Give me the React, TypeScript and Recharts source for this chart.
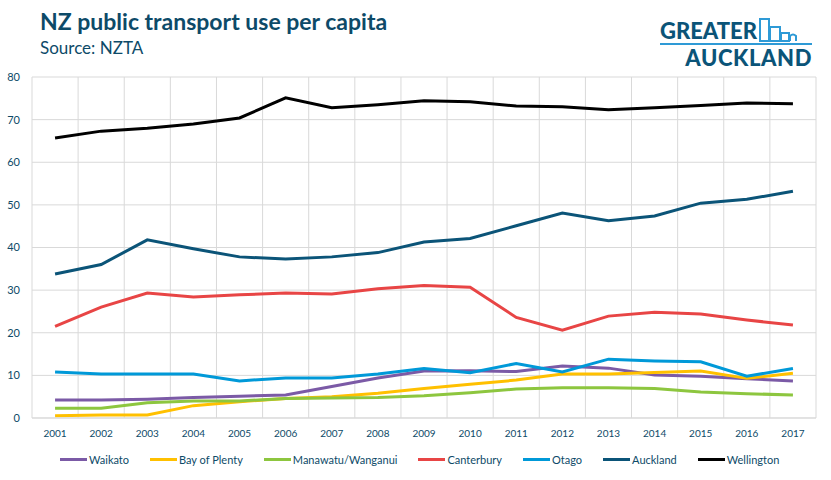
import { LineChart, Line, XAxis, YAxis, CartesianGrid } from "recharts";

const years = [
  "2001", "2002", "2003", "2004", "2005", "2006", "2007", "2008", "2009",
  "2010", "2011", "2012", "2013", "2014", "2015", "2016", "2017",
];

const waikato = [4.2, 4.2, 4.4, 4.8, 5.1, 5.4, 7.4, 9.4, 11.0, 11.1, 10.9, 12.2, 11.7, 10.1, 9.8, 9.2, 8.7];
const bayOfPlenty = [0.5, 0.7, 0.7, 2.9, 3.8, 4.6, 5.0, 5.8, 6.9, 7.9, 8.9, 10.3, 10.3, 10.7, 11.0, 9.3, 10.5];
const manawatu = [2.3, 2.3, 3.6, 4.0, 4.0, 4.6, 4.7, 4.8, 5.2, 5.9, 6.8, 7.1, 7.1, 6.9, 6.1, 5.7, 5.4];
const canterbury = [21.5, 26.0, 29.3, 28.4, 28.9, 29.3, 29.1, 30.3, 31.1, 30.7, 23.6, 20.6, 23.9, 24.8, 24.4, 23.0, 21.8];
const otago = [10.8, 10.3, 10.3, 10.3, 8.7, 9.4, 9.4, 10.3, 11.6, 10.6, 12.8, 10.8, 13.8, 13.4, 13.2, 9.8, 11.6];
const auckland = [33.8, 36.0, 41.8, 39.7, 37.8, 37.3, 37.8, 38.8, 41.3, 42.1, 45.1, 48.1, 46.3, 47.4, 50.4, 51.3, 53.2];
const wellington = [65.7, 67.3, 68.0, 69.0, 70.4, 75.1, 72.8, 73.5, 74.4, 74.2, 73.2, 73.0, 72.3, 72.8, 73.3, 73.9, 73.7];

const yTicks = [0, 10, 20, 30, 40, 50, 60, 70, 80];

const series = [
  { key: "waikato", name: "Waikato", values: waikato, color: "#7b5aa6" },
  { key: "bop", name: "Bay of Plenty", values: bayOfPlenty, color: "#ffc000" },
  { key: "manawatu", name: "Manawatu/Wanganui", values: manawatu, color: "#8dc63f" },
  { key: "canterbury", name: "Canterbury", values: canterbury, color: "#e84545" },
  { key: "otago", name: "Otago", values: otago, color: "#0099d8" },
  { key: "auckland", name: "Auckland", values: auckland, color: "#0b5478" },
  { key: "wellington", name: "Wellington", values: wellington, color: "#000000" },
];

const data = years.map((year, i) => {
  const row: Record<string, string | number> = { year };
  series.forEach((s) => {
    row[s.key] = s.values[i];
  });
  return row;
});

const TEXT = "#0d4a68";
const FONT = "Lato, 'Open Sans', sans-serif";
// half of one year's band, so points sit in the middle of each column
const HALF_BAND = 784 / years.length / 2;

export default function App() {
  return (
    <div style={{ position: "relative", width: 831, height: 480, background: "#fff", fontFamily: FONT }}>
      <style>{`body{margin:0}`}</style>
      <div style={{ position: "absolute", left: 40, top: 7, fontSize: 23, fontWeight: 700, color: TEXT }}>
        NZ public transport use per capita
      </div>
      <div style={{ position: "absolute", left: 40, top: 37, fontSize: 17, color: TEXT }}>
        Source: NZTA
      </div>

      {/* logo */}
      <div style={{ position: "absolute", left: 660, top: 17, width: 152, height: 50 }}>
        <div style={{ position: "absolute", left: 0, top: 0, fontSize: 22, fontWeight: 900, color: "#0b5478" }}>
          GREATER
        </div>
        <svg style={{ position: "absolute", left: 97, top: 0 }} width={55} height={28}>
          <rect x={3} y={2} width={9} height={22} fill="none" stroke="#2e9ad6" strokeWidth={2} />
          <rect x={13} y={10} width={10} height={14} fill="none" stroke="#2e9ad6" strokeWidth={2} />
          <rect x={24} y={16} width={8} height={8} fill="none" stroke="#2e9ad6" strokeWidth={2} />
          <path d="M33 24 L33 19 Q36 16 39 19 L39 24" fill="none" stroke="#2e9ad6" strokeWidth={2} />
        </svg>
        <div style={{ position: "absolute", left: 0, top: 26, width: 152, height: 2, background: "#2e9ad6" }} />
        <div style={{ position: "absolute", right: 0, top: 27, fontSize: 22, fontWeight: 900, color: "#0b5478", letterSpacing: 0.6 }}>
          AUCKLAND
        </div>
      </div>

      <div style={{ position: "absolute", left: 0, top: 0 }}>
        <LineChart width={831} height={480} data={data} margin={{ top: 77, right: 15, bottom: 32, left: 0 }}>
          <CartesianGrid
            stroke="#d9d9d9"
            strokeWidth={1}
            verticalCoordinatesGenerator={({ offset }: any) =>
              years.map((_, i) => offset.left + (i * offset.width) / years.length).concat(offset.left + offset.width)
            }
          />
          <XAxis
            dataKey="year"
            height={30}
            padding={{ left: HALF_BAND, right: HALF_BAND }}
            axisLine={{ stroke: "#d9d9d9" }}
            tickLine={false}
            tickMargin={6}
            tick={{ fill: TEXT, fontSize: 10, fontFamily: FONT }}
            interval={0}
          />
          <YAxis
            width={32}
            domain={[0, 80]}
            ticks={yTicks}
            axisLine={false}
            tickLine={false}
            tickSize={0}
            tickMargin={12}
            tick={{ fill: TEXT, fontSize: 11, fontFamily: FONT }}
          />
          {series.map((s) => (
            <Line
              key={s.key}
              dataKey={s.key}
              name={s.name}
              stroke={s.color}
              strokeWidth={3}
              dot={false}
              type="linear"
              isAnimationActive={false}
            />
          ))}
        </LineChart>
      </div>

      {/* legend */}
      <div style={{ position: "absolute", left: 60, top: 453, display: "flex", alignItems: "center", fontSize: 11, color: TEXT }}>
        {series.map((s) => (
          <div key={s.key} style={{ display: "flex", alignItems: "center", marginRight: 21 }}>
            <div style={{ width: 27, height: 3, background: s.color, marginRight: 2 }} />
            <span>{s.name}</span>
          </div>
        ))}
      </div>
    </div>
  );
}
